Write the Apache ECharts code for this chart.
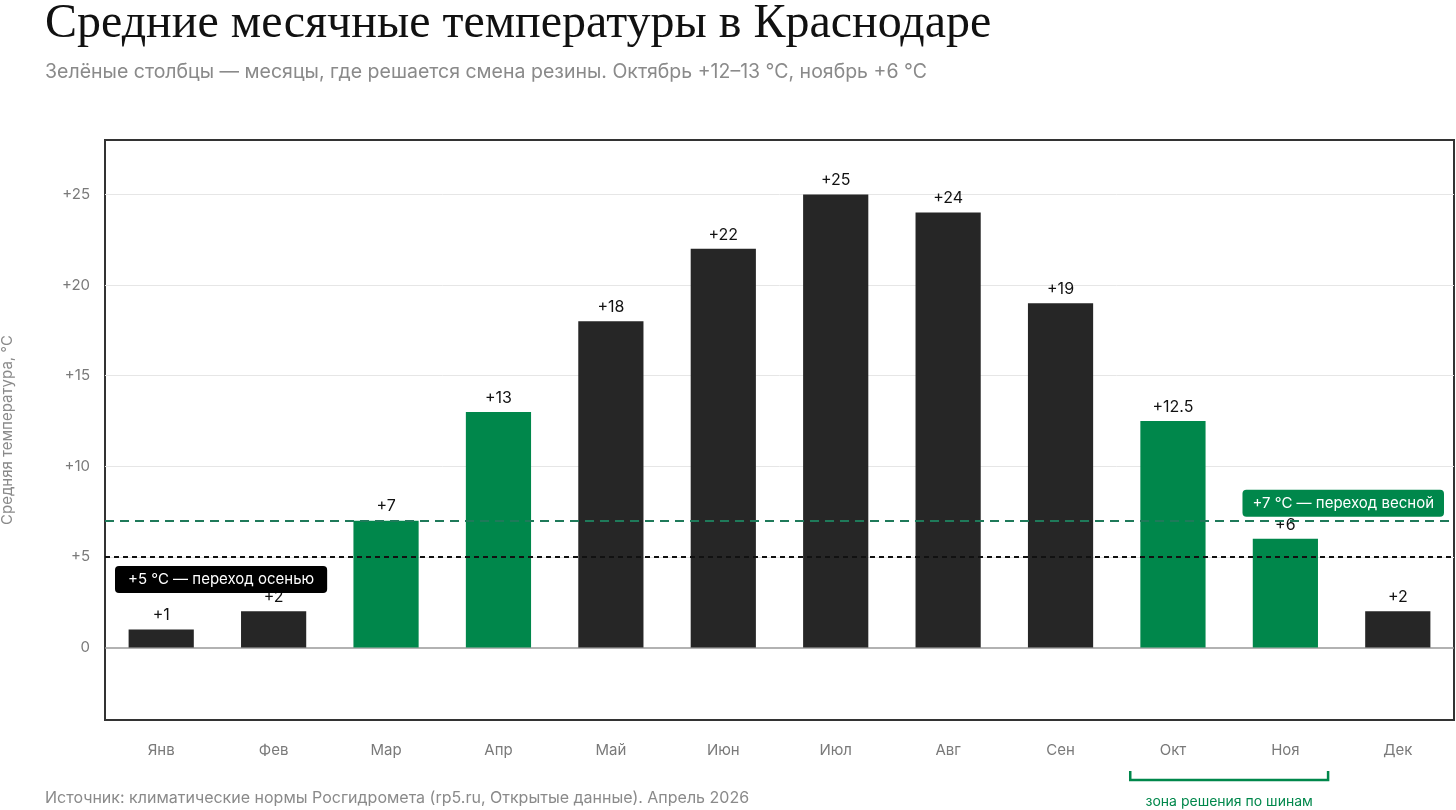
<!DOCTYPE html>
<html>
<head>
<meta charset="utf-8">
<script src="https://cdn.jsdelivr.net/npm/echarts@6/dist/echarts.min.js"></script>
<style>
  html, body { margin: 0; padding: 0; background: #fff; }
  #chart { width: 1456px; height: 810px; }
</style>
</head>
<body>
<div id="chart"></div>
<script>
// данные
var months = ['Янв', 'Фев', 'Мар', 'Апр', 'Май', 'Июн', 'Июл', 'Авг', 'Сен', 'Окт', 'Ноя', 'Дек'];
var temps = [1, 2, 7, 13, 18, 22, 25, 24, 19, 12.5, 6, 2];
var greenMonths = ['Мар', 'Апр', 'Окт', 'Ноя'];
var gridValues = [5, 10, 15, 20, 25];
var springLine = 7;
var autumnLine = 5;
var zoneMonths = ['Окт', 'Ноя'];

var GREEN = '#00874b';
var DARK = '#262626';
var FONT = 'Inter, "Noto Sans", sans-serif';

var chart = echarts.init(document.getElementById('chart'));

function plus(v) { return v > 0 ? '+' + v : String(v); }

var barData = temps.map(function (v, i) {
    return {
        value: v,
        itemStyle: { color: greenMonths.indexOf(months[i]) >= 0 ? GREEN : DARK }
    };
});

var gridMarks = gridValues.map(function (v) {
    return { yAxis: v, lineStyle: { color: '#e6e6e6', width: 1, type: 'solid' }, label: { show: false } };
});

var option = {
    animation: false,
    textStyle: { fontFamily: FONT },
    title: [
        {
            text: 'Средние месячные температуры в Краснодаре',
            left: 45, top: 0, padding: 0,
            textStyle: { fontFamily: '"Liberation Serif", serif', fontSize: 48, fontWeight: 'normal', color: '#111' }
        },
        {
            text: 'Зелёные столбцы — месяцы, где решается смена резины. Октябрь +12–13 °C, ноябрь +6 °C',
            left: 45, top: 62, padding: 0,
            textStyle: { fontFamily: FONT, fontSize: 19.5, fontWeight: 'normal', color: '#8a8a8a' }
        },
        {
            text: 'Источник: климатические нормы Росгидромета (rp5.ru, Открытые данные). Апрель 2026',
            left: 45, top: 790, padding: 0,
            textStyle: { fontFamily: FONT, fontSize: 16, fontWeight: 'normal', color: '#8a8a8a' }
        }
    ],
    grid: {
        left: 105, right: 2, top: 140, bottom: 90,
        outerBoundsMode: 'none',
        containLabel: false,
        show: true, borderColor: '#333', borderWidth: 2, backgroundColor: 'transparent'
    },
    xAxis: {
        type: 'category',
        data: months,
        axisLine: { show: false },
        axisTick: { show: false },
        axisLabel: { color: '#7a7a7a', fontSize: 15, margin: 23, fontFamily: FONT }
    },
    yAxis: {
        type: 'value',
        min: -4, max: 28, interval: 1,
        name: 'Средняя температура, °C',
        nameLocation: 'middle',
        nameGap: 90,
        nameTextStyle: { color: '#8a8a8a', fontSize: 15, fontFamily: FONT },
        axisLine: { show: false },
        axisTick: { show: false },
        splitLine: { show: false },
        axisLabel: {
            color: '#7a7a7a', fontSize: 15, margin: 15, fontFamily: FONT,
            formatter: function (v) {
                if (v < 0 || v % 5 !== 0) return '';
                return plus(v);
            }
        }
    },
    series: [{
        type: 'bar',
        data: barData,
        barWidth: '58%',
        z: 3,
        label: {
            show: true, position: 'top', distance: 6,
            color: '#111', fontSize: 16, fontFamily: FONT,
            formatter: function (p) { return plus(p.value); }
        },
        markLine: {
            silent: true,
            symbol: 'none',
            z: 2,
            data: gridMarks.concat([
                { yAxis: 0, lineStyle: { color: '#999', width: 1.5, type: 'solid' }, label: { show: false } }
            ])
        }
    }, {
        // пороги: отдельная пустая линия, чтобы не делить ширину столбцов
        type: 'line',
        data: [],
        z: 5,
        markLine: {
            silent: true,
            symbol: 'none',
            z: 5,
            data: [
                {
                    yAxis: springLine,
                    lineStyle: { color: '#1f7a5a', width: 2, type: [9, 6] },
                    label: {
                        show: true, position: 'insideEndTop', distance: [10, 4],
                        formatter: '+7 °C — переход весной',
                        color: '#fff', fontSize: 15, fontFamily: FONT,
                        backgroundColor: GREEN, borderRadius: 4,
                        padding: [6, 10, 6, 10]
                    }
                },
                {
                    yAxis: autumnLine,
                    lineStyle: { color: '#111', width: 2, type: [5, 4] },
                    label: {
                        show: true, position: 'insideStartBottom', distance: [10, 9],
                        formatter: '+5 °C — переход осенью',
                        color: '#fff', fontSize: 15, fontFamily: FONT,
                        backgroundColor: '#000', borderRadius: 4,
                        padding: [6, 13, 6, 13]
                    }
                }
            ]
        }
    }]
};

chart.setOption(option);

// скобка «зона решения по шинам» под Окт–Ноя
var x1 = chart.convertToPixel({ xAxisIndex: 0 }, zoneMonths[0]);
var x2 = chart.convertToPixel({ xAxisIndex: 0 }, zoneMonths[1]);
var band = (x2 - x1);
var bx1 = x1 - band * 0.38;
var bx2 = x2 + band * 0.38;
chart.setOption({
    graphic: [
        {
            type: 'polyline',
            shape: { points: [[bx1, 771], [bx1, 780], [bx2, 780], [bx2, 771]] },
            style: { stroke: GREEN, lineWidth: 2.5, fill: null }
        },
        {
            type: 'text',
            x: (bx1 + bx2) / 2, y: 802,
            style: {
                text: 'зона решения по шинам',
                fill: GREEN, fontSize: 14, fontFamily: FONT,
                align: 'center', verticalAlign: 'middle'
            }
        }
    ]
});
</script>
</body>
</html>
